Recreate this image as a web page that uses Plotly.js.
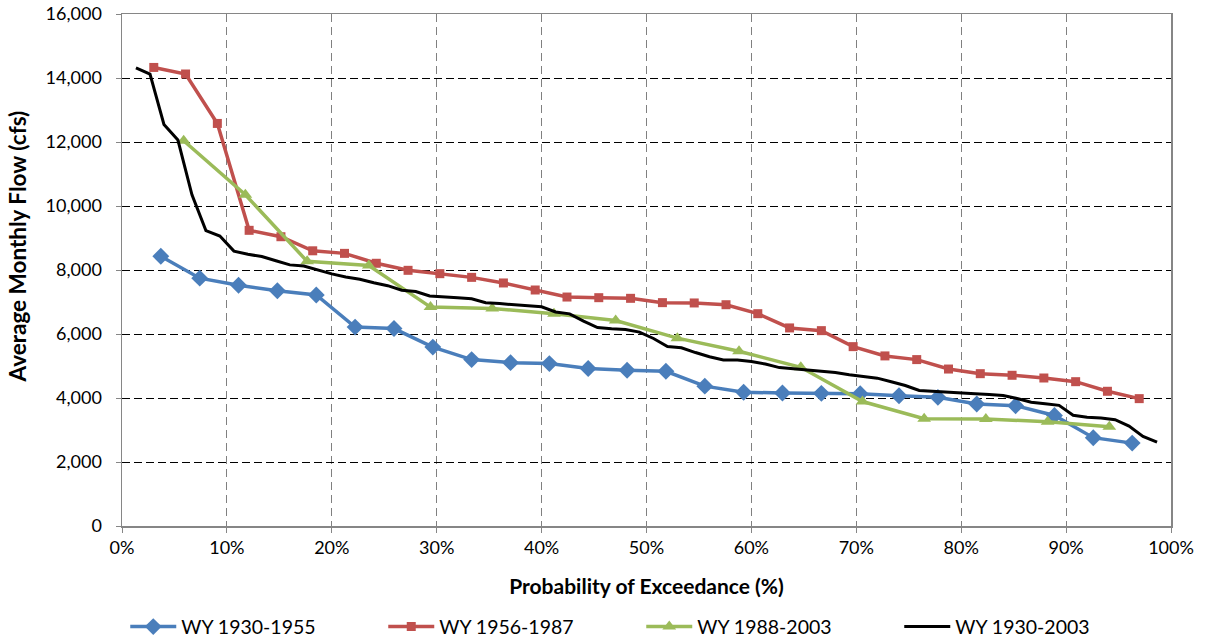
<!DOCTYPE html>
<html>
<head>
<meta charset="utf-8">
<script src="https://cdn.plot.ly/plotly-3.0.1.min.js"></script>
<style>html,body{margin:0;padding:0;background:#fff;}#chart{width:1206px;height:640px;}</style>
</head>
<body>
<div id="chart"></div>
<script>
// Probability of exceedance (%) and flows (cfs)
var seriesNames = ["WY 1930-1955", "WY 1956-1987", "WY 1988-2003", "WY 1930-2003"];
var xTitle = "Probability of Exceedance (%)";
var yTitle = "Average Monthly Flow (cfs)";

var xBlue = [3.70,7.41,11.11,14.81,18.52,22.22,25.93,29.63,33.33,37.04,40.74,44.44,48.15,51.85,55.56,59.26,62.96,66.67,70.37,74.07,77.78,81.48,85.19,88.89,92.59,96.30];
var yBlue = [8430,7745,7525,7350,7220,6215,6170,5590,5200,5105,5075,4920,4865,4835,4370,4180,4155,4146,4135,4072,4021,3812,3760,3455,2760,2590];

var xRed = [3.03,6.06,9.09,12.12,15.15,18.18,21.21,24.24,27.27,30.30,33.33,36.36,39.39,42.42,45.45,48.48,51.52,54.55,57.58,60.61,63.64,66.67,69.70,72.73,75.76,78.79,81.82,84.85,87.88,90.91,93.94,96.97];
var yRed = [14330,14125,12580,9240,9040,8600,8520,8210,7990,7885,7770,7595,7375,7155,7135,7115,6980,6970,6915,6635,6190,6105,5605,5315,5200,4905,4760,4710,4625,4510,4210,3980];

var xGreen = [5.88,11.76,17.65,23.53,29.41,35.29,41.18,47.06,52.94,58.82,64.71,70.59,76.47,82.35,88.24,94.12];
var yGreen = [12040,10350,8270,8140,6840,6800,6630,6420,5870,5460,4960,3890,3350,3340,3260,3100];

var xBlack = [1.33,2.67,4.00,5.33,6.67,8.00,9.33,10.67,12.00,13.33,14.67,16.00,17.33,18.67,20.00,21.33,22.67,24.00,25.33,26.67,28.00,29.33,30.67,32.00,33.33,34.67,36.00,37.33,38.67,40.00,41.33,42.67,44.00,45.33,46.67,48.00,49.33,50.67,52.00,53.33,54.67,56.00,57.33,58.67,60.00,61.33,62.67,64.00,65.33,66.67,68.00,69.33,70.67,72.00,73.33,74.67,76.00,77.33,78.67,80.00,81.33,82.67,84.00,85.33,86.67,88.00,89.33,90.67,92.00,93.33,94.67,96.00,97.33,98.67];
var yBlack = [14320,14120,12550,12060,10350,9230,9060,8590,8490,8420,8290,8160,8125,8000,7880,7780,7710,7600,7510,7370,7325,7190,7150,7130,7100,6980,6950,6920,6880,6850,6690,6630,6400,6200,6165,6140,6060,5860,5610,5570,5420,5290,5190,5185,5140,5060,4950,4910,4880,4850,4800,4730,4680,4620,4510,4390,4235,4205,4175,4150,4130,4110,4080,3985,3870,3820,3770,3460,3400,3375,3320,3120,2800,2620];

var xTickVals = [0,10,20,30,40,50,60,70,80,90,100];
var xTickText = ["0%","10%","20%","30%","40%","50%","60%","70%","80%","90%","100%"];
var yTickVals = [0,2000,4000,6000,8000,10000,12000,14000,16000];

var FONT = "Lato, 'Liberation Sans', sans-serif";

var traces = [
  {x: xBlue, y: yBlue, name: seriesNames[0], type: "scatter", mode: "lines+markers",
   line: {color: "#4A7EBB", width: 3.5}, marker: {symbol: "diamond", size: 13, color: "#4A7EBB"}},
  {x: xRed, y: yRed, name: seriesNames[1], type: "scatter", mode: "lines+markers",
   line: {color: "#C0504D", width: 3.5}, marker: {symbol: "square", size: 9, color: "#C0504D"}},
  {x: xGreen, y: yGreen, name: seriesNames[2], type: "scatter", mode: "lines+markers",
   line: {color: "#9BBB59", width: 3.5}, marker: {symbol: "triangle-up", size: 12, color: "#9BBB59"}},
  {x: xBlack, y: yBlack, name: seriesNames[3], type: "scatter", mode: "lines",
   line: {color: "#000000", width: 3}}
];

var layout = {
  width: 1206, height: 640,
  paper_bgcolor: "#fff", plot_bgcolor: "#fff",
  margin: {l: 122, r: 35, t: 14, b: 114, autoexpand: false},
  font: {family: FONT, size: 18, color: "#000"},
  showlegend: true,
  legend: {orientation: "h", x: 0.495, xanchor: "center", y: -0.159, yanchor: "top",
           font: {family: FONT, size: 19.5, color: "#000"}, itemwidth: 46, entrywidth: 197,
           traceorder: "normal"},
  xaxis: {
    range: [0, 100], tickmode: "array", tickvals: xTickVals, ticktext: xTickText,
    showline: true, linecolor: "#868686", linewidth: 1.5, mirror: true,
    ticks: "outside", ticklen: 5, tickcolor: "#868686",
    showgrid: true, gridcolor: "#808080", gridwidth: 1, griddash: "8px,5px",
    zeroline: false, tickfont: {family: FONT, size: 18, color: "#000"}, automargin: false,
    title: {text: "<b>" + xTitle + "</b>", font: {family: FONT, size: 21, color: "#000"}, standoff: 22}
  },
  yaxis: {
    range: [0, 16000], tickvals: yTickVals, tickformat: ",",
    showline: true, linecolor: "#868686", linewidth: 1.5, mirror: true,
    ticks: "outside", ticklen: 5, tickcolor: "#868686", ticklabelstandoff: 10,
    showgrid: true, gridcolor: "#000000", gridwidth: 1, griddash: "8px,4px",
    zeroline: false, tickfont: {family: FONT, size: 18, color: "#000"}, automargin: false
  },
  annotations: [{
    text: "<b>" + yTitle + "</b>", xref: "paper", yref: "paper",
    x: -0.0996, y: 0.545, xanchor: "center", yanchor: "middle", textangle: -90,
    showarrow: false, font: {family: FONT, size: 22.5, color: "#000"}
  }]
};

Plotly.newPlot("chart", traces, layout, {displayModeBar: false, staticPlot: true});
</script>
</body>
</html>
